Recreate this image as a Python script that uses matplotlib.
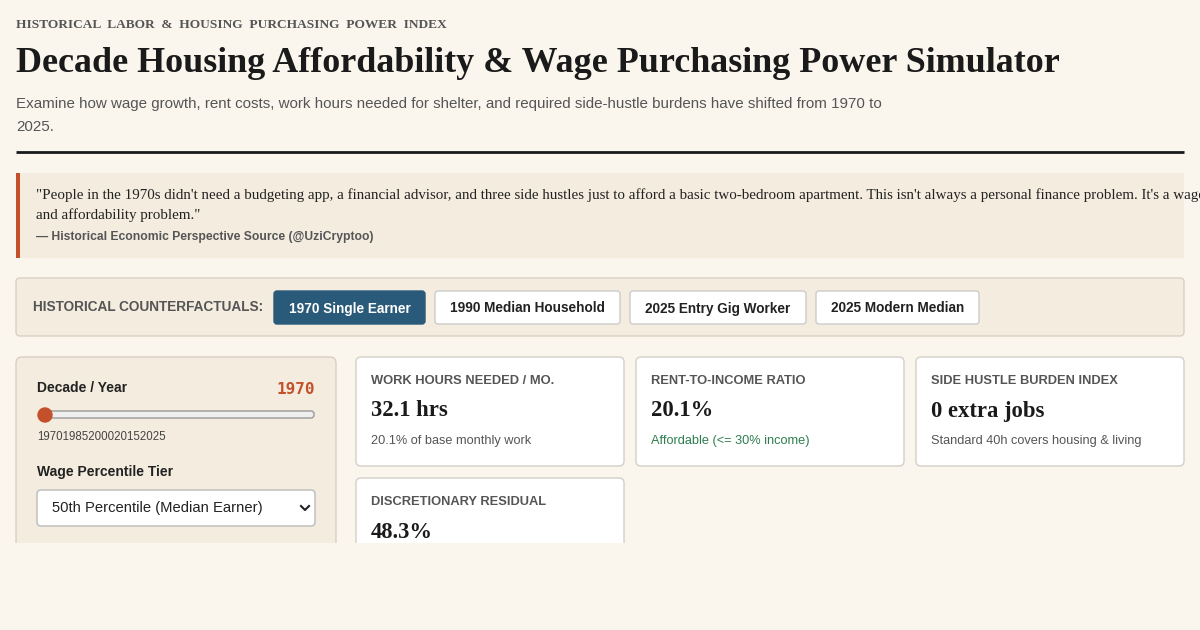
import matplotlib
matplotlib.use("Agg")
import matplotlib.pyplot as plt
from matplotlib.patches import FancyBboxPatch, Rectangle, Circle

kicker = "HISTORICAL LABOR & HOUSING PURCHASING POWER INDEX"
title = "Decade Housing Affordability & Wage Purchasing Power Simulator"
subtitle = ["Examine how wage growth, rent costs, work hours needed for shelter, and required side-hustle burdens have shifted from 1970 to", "2025."]
quote = ['"People in the 1970s didn\'t need a budgeting app, a financial advisor, and three side hustles just to afford a basic two-bedroom apartment. This isn\'t always a personal finance problem. It\'s a wages',
         'and affordability problem."']
attribution = "— Historical Economic Perspective Source (@UziCryptoo)"
scenarios = ["1970 Single Earner", "1990 Median Household", "2025 Entry Gig Worker", "2025 Modern Median"]
decades = ["1970", "1985", "2000", "2015", "2025"]
selected_year = "1970"
tier = "50th Percentile (Median Earner)"
card_labels = ["WORK HOURS NEEDED / MO.", "RENT-TO-INCOME RATIO", "SIDE HUSTLE BURDEN INDEX", "DISCRETIONARY RESIDUAL"]
card_values = ["32.1 hrs", "20.1%", "0 extra jobs", "48.3%"]
card_notes = ["20.1% of base monthly work", "Affordable (<= 30% income)", "Standard 40h covers housing & living", ""]

BG = "#faf6ee"; PANEL = "#f3ecdf"; BORDER = "#d9d0c1"; ORANGE = "#c4502b"; BLUE = "#2a5a7a"
SERIF = ["Liberation Serif", "DejaVu Serif"]; SANS = ["Liberation Sans", "DejaVu Sans"]

fig = plt.figure(figsize=(12, 6.3), dpi=100, facecolor=BG)
ax = fig.add_axes([0, 0, 1, 1]); ax.set_xlim(0, 1200); ax.set_ylim(630, 0); ax.axis("off")

def box(x0, y0, x1, y1, fc, ec=BORDER, r=4, lw=1, z=1):
    ax.add_patch(FancyBboxPatch((x0, y0), x1 - x0, y1 - y0, boxstyle=f"round,pad=0,rounding_size={r}",
                                fc=fc, ec=ec, lw=lw, zorder=z))

ax.text(16, 25, "  ".join(kicker.split(" ")), family=SERIF, fontsize=9.6, weight="bold", color="#555", va="center")
ax.text(16, 63, title, family=SERIF, fontsize=25.9, weight="bold", color="#1a1a1a", va="center")
for i, s in enumerate(subtitle):
    ax.text(16, 104 + 23 * i, s, family=SANS, fontsize=10.9, color="#555", va="center")
ax.plot([16, 1184], [152, 152], color="#1a1a1a", lw=2, solid_capstyle="butt")

ax.add_patch(Rectangle((16, 173), 1168, 85, fc=PANEL, ec="none"))
ax.add_patch(Rectangle((16, 173), 4, 85, fc=ORANGE, ec="none"))
for i, s in enumerate(quote):
    ax.text(36, 195 + 20 * i, s, family=SERIF, fontsize=10.8, color="#222", va="center")
ax.text(36, 237, attribution, family=SANS, fontsize=8.7, weight="bold", color="#555", va="center")

box(16, 278, 1184, 336, PANEL)
ax.text(33, 307, "HISTORICAL COUNTERFACTUALS:", family=SANS, fontsize=9.8, weight="bold", color="#555", va="center")
bx = [(274, 425), (435, 620), (630, 806), (816, 979)]
for i, (lab, (a, b)) in enumerate(zip(scenarios, bx)):
    sel = i == 0
    box(a, 291, b, 324, BLUE if sel else "white", ec=BLUE if sel else "#ccc", r=3)
    ax.text((a + b) / 2, 308.5, lab, family=SANS, fontsize=9.8, weight="bold",
            color="white" if sel else "#222", ha="center", va="center")

box(16, 357, 336, 600, PANEL, r=6)
ax.text(37, 388, "Decade / Year", family=SANS, fontsize=10, weight="bold", color="#222", va="center")
ax.text(315, 390, selected_year, family=["DejaVu Sans Mono"], fontsize=11.5, weight="bold", color=ORANGE, ha="right", va="center")
box(40, 411, 314, 418, "#efefef", ec="#999", r=3, z=2)
ax.add_patch(Circle((45, 415), 7, fc=ORANGE, ec=ORANGE, zorder=3))
ax.text(37, 437, "".join(decades), family=SANS, fontsize=8.3, color="#444", va="center")
ax.text(37, 472, "Wage Percentile Tier", family=SANS, fontsize=10, weight="bold", color="#222", va="center")
box(37, 490, 315, 526, "white", ec="#bbb", r=4, z=2)
ax.text(52, 508, tier, family=SANS, fontsize=10.6, color="#222", va="center", zorder=3)
ax.plot([301, 305, 309], [506, 510, 506], color="#222", lw=1.5, zorder=3)

cards = [(356, 357, 624, 466), (636, 357, 904, 466), (916, 357, 1184, 466), (356, 478, 624, 600)]
for (x0, y0, x1, y1), lab, val, note in zip(cards, card_labels, card_values, card_notes):
    box(x0, y0, x1, y1, "white", ec="#d4d0c8", r=5)
    ax.text(x0 + 15, y0 + 24, lab, family=SANS, fontsize=9.3, weight="bold", color="#555", va="center")
    ax.text(x0 + 15, y0 + 54, val, family=SERIF, fontsize=16.3, weight="bold", color="#1a1a1a", va="center")
    if note:
        ax.text(x0 + 15, y0 + 84, note, family=SANS, fontsize=9.2,
                color="#2e7d4f" if "Affordable" in note else "#555", va="center")

ax.add_patch(Rectangle((0, 543), 1200, 90, fc=BG, ec="none", zorder=10))
fig.savefig("out.png", dpi=100, facecolor=BG)
